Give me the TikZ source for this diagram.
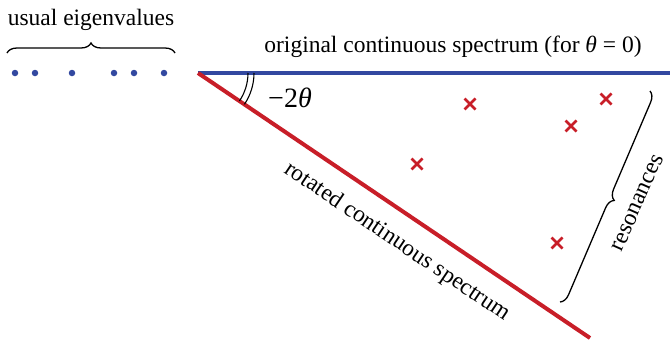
\documentclass[tikz,border=0pt]{standalone}
\usepackage{fontspec}
\setmainfont{Liberation Serif}
\usetikzlibrary{decorations.pathreplacing}
\definecolor{specblue}{RGB}{50,72,160}
\definecolor{specred}{RGB}{200,30,40}
\begin{document}
\begin{tikzpicture}[x=1pt,y=-1pt,
  lbl/.style={font=\fontsize{23.5}{26}\selectfont, inner sep=0pt},
  eig/.style={circle, fill=specblue, inner sep=0pt, minimum size=6.5pt},
  res/.style={specred, line width=2.6pt},
  bracestyle/.style={decorate, decoration={brace, amplitude=10pt}, line width=1.3pt}]
\useasboundingbox (0,0) rectangle (670,351);
% eigenvalues
\foreach \i/\x in {1/15,2/35,3/72,4/114,5/134,6/164}
  \node[eig] (e\i) at (\x,73) {};
\coordinate (O) at (198,73);
\coordinate (B) at (670,73);
\coordinate (R) at (590,338);
\draw[specblue, line width=4pt] (O) -- (B);
\draw[specred, line width=4pt] (O) -- (R);
% angle
\draw[line width=1.1pt] ([shift={(0:50)}]O) arc[start angle=0, end angle=34, radius=50];
\draw[line width=1.1pt] ([shift={(0:56)}]O) arc[start angle=0, end angle=34, radius=56];
\node[lbl, font=\fontsize{28}{30}\selectfont] (ang) at (290,98) {−2\textit{θ}};
% labels
\draw[bracestyle] (7,53) -- (175,53);
\node[lbl] (ue) at (91,20) {usual eigenvalues};
\node[lbl] (oc) at (453,47) {original continuous spectrum (for \textit{θ} = 0)};
\node[lbl, rotate=-34] (rc) at (397,242) {rotated continuous spectrum};
% resonances
\foreach \i/\x/\y in {1/470/104,2/417/164,3/571/126,4/606/99,5/557/243}{
  \draw[res] (\x-5.5,\y-5.5) -- (\x+5.5,\y+5.5) (\x-5.5,\y+5.5) -- (\x+5.5,\y-5.5);
  \coordinate (r\i) at (\x,\y);
}
\draw[bracestyle] (650,91) -- (560,302);
\node[lbl, rotate=66] (rs) at (638,203) {resonances};
\end{tikzpicture}
\end{document}
